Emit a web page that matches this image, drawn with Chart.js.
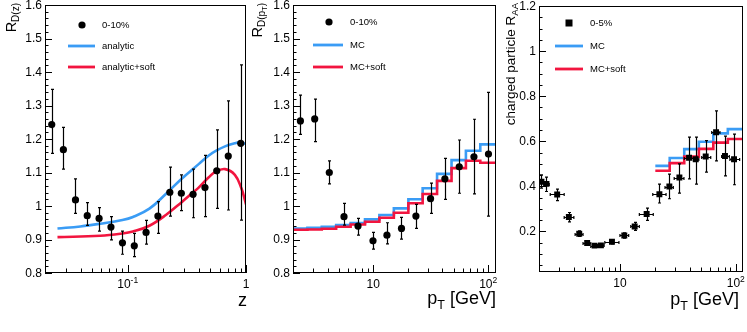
<!DOCTYPE html>
<html>
<head>
<meta charset="utf-8">
<script src="https://cdn.jsdelivr.net/npm/chart.js@4.4.0/dist/chart.umd.min.js"></script>
<style>
  body { margin: 0; background: #fff; }
  canvas { position: absolute; top: 0; }
</style>
</head>
<body>
<canvas id="c1" width="250" height="332" style="left:0"></canvas>
<canvas id="c2" width="250" height="332" style="left:250px"></canvas>
<canvas id="c3" width="247" height="332" style="left:500px"></canvas>
<script>
var FONT = '"Liberation Sans", Arial, Helvetica, sans-serif';
var BLUE = '#3a9cf5';
var RED = '#f2153f';

// ---- panel 1 : R_D(z), 0-10%
var zVals = [0.0228, 0.0286, 0.0362, 0.0455, 0.0573, 0.0722, 0.0903, 0.1137, 0.143, 0.180, 0.227, 0.284, 0.357, 0.45, 0.566, 0.708, 0.903];
var rdz   = [1.243, 1.168, 1.018, 0.971, 0.963, 0.937, 0.890, 0.881, 0.921, 0.970, 1.041, 1.038, 1.035, 1.055, 1.105, 1.149, 1.187];
var rdzHi = [1.348, 1.235, 1.081, 1.010, 0.995, 0.968, 0.925, 0.918, 0.957, 1.013, 1.116, 1.093, 1.110, 1.151, 1.227, 1.314, 1.421];
var rdzLo = [1.157, 1.110, 0.978, 0.942, 0.925, 0.899, 0.856, 0.849, 0.886, 0.918, 0.970, 0.986, 0.965, 0.968, 0.993, 0.988, 0.958];
var analyticZ = [0.0255, 0.0398, 0.0585, 0.0903, 0.1107, 0.1526, 0.210, 0.289, 0.398, 0.482, 0.56, 0.665, 0.80, 0.88, 1.0];
var analyticR = [0.933, 0.939, 0.947, 0.958, 0.967, 0.992, 1.036, 1.083, 1.125, 1.150, 1.165, 1.178, 1.187, 1.190, 1.185];
var softZ = [0.0255, 0.0585, 0.0903, 0.1107, 0.1526, 0.210, 0.289, 0.350, 0.398, 0.482, 0.55, 0.665, 0.805, 0.914, 0.987, 1.0];
var softR = [0.907, 0.911, 0.918, 0.924, 0.941, 0.973, 1.013, 1.038, 1.055, 1.085, 1.102, 1.110, 1.093, 1.053, 1.013, 1.005];
var yTicks1 = [0.8, 0.9, 1, 1.1, 1.2, 1.3, 1.4, 1.5, 1.6];
var yLabels1 = ['0.8', '0.9', '1', '1.1', '1.2', '1.3', '1.4', '1.5', '1.6'];
var xTicks1 = [0.1, 1];
var xLabels1 = [['10', '-1'], ['1', '']];

// ---- panel 2 : R_D(pT), 0-10%
var ptD    = [2.32, 3.09, 4.14, 5.56, 7.36, 9.94, 13.15, 17.6, 23.5, 31.5, 42, 56, 75.2, 100.6];
var rdpt   = [1.254, 1.260, 1.100, 0.968, 0.940, 0.896, 0.913, 0.933, 0.970, 1.022, 1.081, 1.117, 1.147, 1.155];
var rdptHi = [1.331, 1.319, 1.135, 1.008, 0.963, 0.921, 0.950, 0.966, 1.005, 1.068, 1.142, 1.197, 1.259, 1.339];
var rdptLo = [1.214, 1.192, 1.066, 0.943, 0.913, 0.871, 0.887, 0.901, 0.933, 0.978, 1.020, 1.038, 1.036, 0.970];
var binEdgesD = [2, 2.67, 3.56, 4.75, 6.35, 8.47, 11.3, 15.1, 20.2, 26.9, 35.9, 48, 64, 85.4, 117];
var mcD     = [0.933, 0.935, 0.938, 0.943, 0.949, 0.960, 0.973, 0.993, 1.020, 1.053, 1.096, 1.137, 1.165, 1.184];
var mcSoftD = [0.929, 0.930, 0.932, 0.938, 0.945, 0.953, 0.965, 0.980, 1.008, 1.036, 1.075, 1.113, 1.135, 1.129];
var xTicks2 = [10, 100];
var xLabels2 = [['10', ''], ['10', '2']];

// ---- panel 3 : charged particle RAA, 0-5%
var ptH   = [2.1, 2.32, 2.87, 3.62, 4.45, 5.21, 6.04, 6.85, 8.53, 10.9, 13.4, 17.0, 21.9, 26.7, 32.6, 39.5, 45.1, 55, 67.6, 80.7, 96.6];
var raa   = [0.420, 0.411, 0.364, 0.264, 0.190, 0.149, 0.137, 0.138, 0.154, 0.182, 0.222, 0.277, 0.365, 0.399, 0.439, 0.527, 0.520, 0.532, 0.640, 0.535, 0.520];
var raaHi = [0.451, 0.441, 0.388, 0.284, 0.202, 0.158, 0.145, 0.146, 0.163, 0.194, 0.240, 0.303, 0.410, 0.454, 0.500, 0.618, 0.618, 0.603, 0.735, 0.623, 0.632];
var raaLo = [0.392, 0.377, 0.337, 0.242, 0.178, 0.140, 0.129, 0.130, 0.145, 0.170, 0.205, 0.249, 0.326, 0.345, 0.370, 0.433, 0.410, 0.463, 0.513, 0.446, 0.407];
var ptHLo = [2.0, 2.2, 2.5, 3.3, 4.1, 4.8, 5.6, 6.4, 7.4, 10.0, 12.4, 14.7, 19.2, 24.5, 29.4, 35.9, 43, 50.8, 62, 75.5, 89];
var ptHHi = [2.2, 2.45, 3.3, 4.0, 4.8, 5.6, 6.4, 7.3, 9.8, 11.9, 14.7, 19.4, 25, 28.9, 35.7, 43, 48, 60.8, 73, 88, 108];
var binEdgesH = [20.2, 26.9, 35.9, 48, 64, 85.4, 115];
var mcH     = [0.491, 0.526, 0.565, 0.598, 0.635, 0.654];
var mcSoftH = [0.469, 0.503, 0.532, 0.566, 0.594, 0.610];
var yTicks3 = [0.2, 0.4, 0.6, 0.8, 1, 1.2];
var yLabels3 = ['0.2', '0.4', '0.6', '0.8', '1', '1.2'];

function pts(xs, ys) {
  return xs.map(function (x, i) { return { x: x, y: ys[i] }; });
}
function histPts(edges, vals) {
  return edges.map(function (e, i) { return { x: e, y: vals[Math.min(i, vals.length - 1)] }; });
}

// text pieces are [text, size, dy], drawn one after another on the baseline
function runWidth(ctx, parts) {
  var w = 0;
  parts.forEach(function (p) { ctx.font = p[1] + 'px ' + FONT; w += ctx.measureText(p[0]).width; });
  return w;
}
function drawRun(ctx, x, y, parts) {
  parts.forEach(function (p) {
    ctx.font = p[1] + 'px ' + FONT;
    ctx.fillText(p[0], x, y + (p[2] || 0));
    x += ctx.measureText(p[0]).width;
  });
}

var rootStyle = {
  id: 'rootStyle',
  afterDatasetsDraw: function (chart) {
    var o = chart.options.plugins.rootStyle;
    var ctx = chart.ctx, a = chart.chartArea, xs = chart.scales.x, ys = chart.scales.y;
    var e = o.errors;
    ctx.save();
    ctx.beginPath();
    ctx.rect(a.left, a.top, a.right - a.left, a.bottom - a.top);
    ctx.clip();
    ctx.strokeStyle = '#000';
    ctx.lineWidth = 1.2;
    ctx.beginPath();
    for (var i = 0; i < e.x.length; i++) {
      var px = Math.round(xs.getPixelForValue(e.x[i])) + 0.5;
      var py = ys.getPixelForValue(e.y[i]);
      var yh = ys.getPixelForValue(e.hi[i]), yl = ys.getPixelForValue(e.lo[i]);
      ctx.moveTo(px, yh); ctx.lineTo(px, yl);
      ctx.moveTo(px - 1.5, yh); ctx.lineTo(px + 1.5, yh);
      ctx.moveTo(px - 1.5, yl); ctx.lineTo(px + 1.5, yl);
      if (e.xlo) {
        var xl = xs.getPixelForValue(e.xlo[i]), xh = xs.getPixelForValue(e.xhi[i]);
        var pyr = Math.round(py) + 0.5;
        ctx.moveTo(xl, pyr); ctx.lineTo(xh, pyr);
        ctx.moveTo(xl, pyr - 1.5); ctx.lineTo(xl, pyr + 1.5);
        ctx.moveTo(xh, pyr - 1.5); ctx.lineTo(xh, pyr + 1.5);
      }
    }
    ctx.stroke();
    ctx.restore();
  },
  afterDraw: function (chart) {
    var o = chart.options.plugins.rootStyle;
    var ctx = chart.ctx, a = chart.chartArea, xs = chart.scales.x, ys = chart.scales.y;
    ctx.save();
    ctx.strokeStyle = '#000';
    ctx.fillStyle = '#000';
    ctx.lineWidth = 1;
    // frame
    ctx.strokeRect(Math.round(a.left) + 0.5, Math.round(a.top) + 0.5,
      Math.round(a.right - a.left) - 1, Math.round(a.bottom - a.top) - 1);
    // y ticks
    ctx.beginPath();
    var k0 = Math.ceil(ys.min / o.yMinor - 1e-6), k1 = Math.floor(ys.max / o.yMinor + 1e-6);
    var per = Math.round(o.yMajor / o.yMinor);
    for (var k = k0; k <= k1; k++) {
      var py = Math.round(ys.getPixelForValue(k * o.yMinor)) + 0.5;
      var len = (k % per === 0) ? 7 : 3.5;
      ctx.moveTo(a.left, py); ctx.lineTo(a.left + len, py);
    }
    // x ticks (log)
    for (var d = Math.floor(Math.log10(xs.min)); d <= Math.ceil(Math.log10(xs.max)); d++) {
      for (var m = 1; m <= 9; m++) {
        var v = m * Math.pow(10, d);
        if (v < xs.min * 0.999 || v > xs.max * 1.001) continue;
        var px = Math.round(xs.getPixelForValue(v)) + 0.5;
        var l = (m === 1) ? 8 : 4.5;
        ctx.moveTo(px, a.bottom); ctx.lineTo(px, a.bottom - l);
      }
    }
    ctx.stroke();
    // y labels
    ctx.font = '12px ' + FONT;
    ctx.textAlign = 'right';
    ctx.textBaseline = 'middle';
    o.yTicks.forEach(function (v, i) {
      ctx.fillText(o.yLabels[i], a.left - 3, ys.getPixelForValue(v) + 0.5);
    });
    // x labels
    ctx.textAlign = 'left';
    ctx.textBaseline = 'alphabetic';
    o.xTicks.forEach(function (v, i) {
      var lab = o.xLabels[i];
      var parts = [[lab[0], 12, 0]];
      if (lab[1]) parts.push([lab[1], 8.5, -5]);
      var w = runWidth(ctx, parts);
      drawRun(ctx, xs.getPixelForValue(v) - w / 2, a.bottom + 15, parts);
    });
    // x title, right aligned
    var xt = o.xTitle;
    var wx = runWidth(ctx, xt.parts);
    drawRun(ctx, xt.right - wx, xt.y, xt.parts);
    // y title, rotated and right aligned at the top
    var yt = o.yTitle;
    ctx.save();
    ctx.translate(yt.x, yt.top);
    ctx.rotate(-Math.PI / 2);
    var wy = runWidth(ctx, yt.parts);
    drawRun(ctx, -wy, 0, yt.parts);
    ctx.restore();
    // legend
    ctx.textBaseline = 'middle';
    o.legend.forEach(function (it) {
      if (it.marker === 'circle') {
        ctx.beginPath(); ctx.arc(it.mx, it.y, 3.6, 0, 2 * Math.PI); ctx.fill();
      } else if (it.marker === 'square') {
        ctx.fillRect(it.mx - 3.5, it.y - 3.5, 7, 7);
      } else {
        ctx.strokeStyle = it.color; ctx.lineWidth = 2.8;
        ctx.beginPath(); ctx.moveTo(it.l0, it.y); ctx.lineTo(it.l1, it.y); ctx.stroke();
      }
      ctx.fillStyle = '#000';
      ctx.font = '9.5px ' + FONT;
      ctx.fillText(it.text, it.tx, it.y + 0.5);
    });
    ctx.restore();
  }
};

function makeChart(id, datasets, x, y, padding, style) {
  return new Chart(document.getElementById(id), {
    type: 'scatter',
    data: { datasets: datasets },
    options: {
      responsive: false,
      animation: false,
      layout: { padding: padding },
      scales: {
        x: { type: 'logarithmic', min: x[0], max: x[1], display: false },
        y: { type: 'linear', min: y[0], max: y[1], display: false }
      },
      plugins: { legend: { display: false }, tooltip: { enabled: false }, rootStyle: style }
    },
    plugins: [rootStyle]
  });
}

function pointSet(xs, ys, shape) {
  return { data: pts(xs, ys), pointStyle: shape, pointRadius: shape === 'rect' ? 4.2 : 3.6,
    backgroundColor: '#000', borderWidth: 0, showLine: false };
}
function curveSet(xs, ys, color) {
  return { data: pts(xs, ys), showLine: true, pointRadius: 0, borderColor: color,
    borderWidth: 2.6, tension: 0.4, fill: false };
}
function histSet(edges, vals, color) {
  return { data: histPts(edges, vals), showLine: true, stepped: true, pointRadius: 0,
    borderColor: color, borderWidth: 2.6, fill: false };
}

makeChart('c1',
  [pointSet(zVals, rdz, 'circle'), curveSet(softZ, softR, RED), curveSet(analyticZ, analyticR, BLUE)],
  [0.02, 1], [0.8, 1.6], { left: 45, right: 2, top: 5, bottom: 59 },
  {
    errors: { x: zVals, y: rdz, hi: rdzHi, lo: rdzLo },
    yMajor: 0.1, yMinor: 0.02, yTicks: yTicks1, yLabels: yLabels1,
    xTicks: xTicks1, xLabels: xLabels1,
    xTitle: { right: 247, y: 306, parts: [['z', 18, 0]] },
    yTitle: { x: 16, top: 3, parts: [['R', 14.5, 0], ['D(z)', 10, 3]] },
    legend: [
      { marker: 'circle', mx: 82, y: 25, tx: 102, text: '0-10%' },
      { color: BLUE, l0: 68, l1: 95, y: 46, tx: 102, text: 'analytic' },
      { color: RED, l0: 68, l1: 95, y: 67, tx: 102, text: 'analytic+soft' }
    ]
  });

makeChart('c2',
  [pointSet(ptD, rdpt, 'circle'), histSet(binEdgesD, mcSoftD, RED), histSet(binEdgesD, mcD, BLUE)],
  [2, 117], [0.8, 1.6], { left: 43, right: 4, top: 5, bottom: 59 },
  {
    errors: { x: ptD, y: rdpt, hi: rdptHi, lo: rdptLo },
    yMajor: 0.1, yMinor: 0.02, yTicks: yTicks1, yLabels: yLabels1,
    xTicks: xTicks2, xLabels: xLabels2,
    xTitle: { right: 246, y: 304, parts: [['p', 18, 0], ['T', 12.5, 5], [' [GeV]', 18, 0]] },
    yTitle: { x: 12, top: 3, parts: [['R', 14.5, 0], ['D(p', 10, 3], ['T', 7.5, 5], [')', 10, 3]] },
    legend: [
      { marker: 'circle', mx: 79, y: 22, tx: 100, text: '0-10%' },
      { color: BLUE, l0: 63, l1: 93, y: 45, tx: 100, text: 'MC' },
      { color: RED, l0: 63, l1: 93, y: 67, tx: 100, text: 'MC+soft' }
    ]
  });

makeChart('c3',
  [pointSet(ptH, raa, 'rect'), histSet(binEdgesH, mcSoftH, RED), histSet(binEdgesH, mcH, BLUE)],
  [2, 115], [0.02, 1.2], { left: 39, right: 4, top: 6, bottom: 60 },
  {
    errors: { x: ptH, y: raa, hi: raaHi, lo: raaLo, xlo: ptHLo, xhi: ptHHi },
    yMajor: 0.2, yMinor: 0.05, yTicks: yTicks3, yLabels: yLabels3,
    xTicks: xTicks2, xLabels: xLabels2,
    xTitle: { right: 239, y: 305, parts: [['p', 18, 0], ['T', 12.5, 5], [' [GeV]', 18, 0]] },
    yTitle: { x: 15, top: 3, parts: [['charged particle R', 13.5, 0], ['AA', 9.5, 3]] },
    legend: [
      { marker: 'square', mx: 69, y: 23, tx: 90, text: '0-5%' },
      { color: BLUE, l0: 55, l1: 83, y: 46, tx: 90, text: 'MC' },
      { color: RED, l0: 55, l1: 83, y: 69, tx: 90, text: 'MC+soft' }
    ]
  });
</script>
</body>
</html>
